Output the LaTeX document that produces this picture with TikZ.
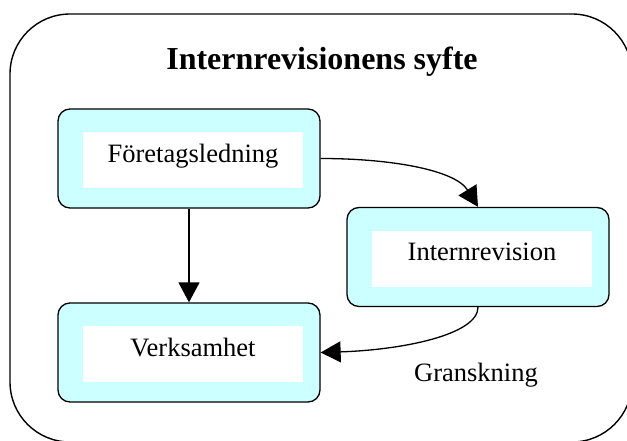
\documentclass[tikz,border=0pt]{standalone}
\usepackage{fontspec}
\setmainfont{Liberation Serif}
\usetikzlibrary{arrows.meta}

\definecolor{boxcyan}{HTML}{CCFFFF}

\tikzset{
    frame/.style={draw, line width=1.4pt, rounded corners=60pt},
    outerbox/.style={draw, line width=1.3pt, fill=boxcyan, rounded corners=12pt, minimum width=262pt, minimum height=99pt},
    innerbox/.style={fill=white, minimum width=220pt, minimum height=56pt, inner sep=0pt, text height=0.7em, text depth=0.25em},
    arr/.style={line width=1.3pt, -{Triangle[length=20pt, width=21pt]}},
    lbl/.style={font=\fontsize{26.5}{30}\selectfont}
}

\begin{document}
\begin{tikzpicture}[x=1pt, y=-1pt, font=\fontsize{26.5}{30}\selectfont]

        \clip (0,0) rectangle (627,441);

        % Frame
        \draw [frame] (10,14) rectangle (632,442);
        \node[anchor=base, font=\fontsize{32}{36}\selectfont\bfseries] (title) at (322,70){Internrevisionens syfte};

        % Boxes
        \foreach \name/\x/\y/\txt in {ledning/189/158.5/Företagsledning, revision/478/257/Internrevision, verk/189/352.5/Verksamhet}{
            \node[outerbox] (\name) at (\x, \y){};
            \node[innerbox] (\name-text) at (\x+4, \y+1.5){\txt};
        }

        % Arrows
        \draw [arr] (ledning.south) -- (verk.north);
        \draw [arr] (ledning.east) .. controls +(70,0) and +(-23,-37) .. (revision.north);
        \draw [arr] (revision.south) .. controls +(0,28) and +(80,-2.5) .. (verk.east);

        % Label
        \node[lbl, text height=0.7em, text depth=0.25em] (granskning) at (476,379){Granskning};

    \end{tikzpicture}
\end{document}
